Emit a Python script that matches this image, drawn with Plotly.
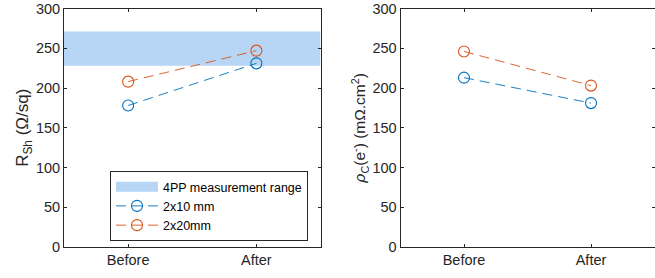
import plotly.graph_objects as go

categories = ["Before", "After"]
x_pos = [1, 2]

rsh_2x10 = [178, 231]
rsh_2x20 = [208, 247]
rhoc_2x10 = [213, 181]
rhoc_2x20 = [246, 203]

band_low = 228
band_high = 271

y_ticks = [0, 50, 100, 150, 200, 250, 300]

BLUE = "#0072BD"
ORANGE = "#D95319"
BAND = "#B7D5F4"
AX = "#262626"
FONT = "Liberation Sans, Arial, sans-serif"

W, H = 655, 278
fig = go.Figure()

xr = [0.5, 2.5]
fig.add_trace(go.Scatter(
    x=[xr[0], xr[1], xr[1], xr[0], xr[0]],
    y=[band_low, band_low, band_high, band_high, band_low],
    fill="toself", fillcolor=BAND, mode="lines", line=dict(width=0, color=BAND),
    name="4PP measurement range", showlegend=False, xaxis="x", yaxis="y", hoverinfo="skip"))
# legend proxy for the band
fig.add_trace(go.Scatter(
    x=[None], y=[None], mode="lines", line=dict(width=10, color=BAND),
    name="4PP measurement range", xaxis="x", yaxis="y"))

for vals, col, name, xa, ya, sl in [
    (rsh_2x10, BLUE, "2x10 mm", "x", "y", True),
    (rsh_2x20, ORANGE, "2x20mm", "x", "y", True),
    (rhoc_2x10, BLUE, "2x10 mm", "x2", "y2", False),
    (rhoc_2x20, ORANGE, "2x20mm", "x2", "y2", False),
]:
    fig.add_trace(go.Scatter(
        x=x_pos, y=vals, mode="lines+markers", name=name, showlegend=sl,
        line=dict(color=col, width=0.9, dash="10px,6px"),
        marker=dict(symbol="circle-open", size=11, color=col, line=dict(width=1.1, color=col)),
        xaxis=xa, yaxis=ya))

ybot = 1 - 247 / H
ytop = 1 - 8.5 / H

common_x = dict(range=xr, tickvals=x_pos, ticktext=categories, ticks="inside", ticklen=3,
                tickcolor=AX, showline=True, linecolor=AX, linewidth=1, mirror="ticks",
                showgrid=False, zeroline=False, automargin=False,
                tickfont=dict(family=FONT, size=14.5, color=AX))
common_y = dict(range=[0, 300], tickvals=y_ticks, ticks="inside", ticklen=3,
                tickcolor=AX, showline=True, linecolor=AX, linewidth=1, mirror="ticks",
                showgrid=False, zeroline=False, automargin=False,
                tickfont=dict(family=FONT, size=14.5, color=AX))

fig.update_layout(
    width=W, height=H, margin=dict(l=0, r=0, t=0, b=0, autoexpand=False),
    paper_bgcolor="white", plot_bgcolor="white",
    font=dict(family=FONT, color=AX),
    xaxis=dict(domain=[64 / W, 320.5 / W], anchor="y", **common_x),
    yaxis=dict(domain=[ybot, ytop], anchor="x",
               title=dict(text="R<sub>Sh</sub> (Ω/sq)", font=dict(family=FONT, size=17, color=AX),
                          standoff=2),
               **common_y),
    xaxis2=dict(domain=[400.5 / W, 654.5 / W], anchor="y2", **common_x),
    yaxis2=dict(domain=[ybot, ytop], anchor="x2",
                title=dict(text="<i>ρ</i><sub>C</sub>(e<sup>-</sup>) (mΩ.cm<sup>2</sup>)",
                           font=dict(family=FONT, size=15.5, color=AX), standoff=2),
                **common_y),
    legend=dict(x=110 / W, y=1 - 171 / H, xanchor="left", yanchor="top",
                bgcolor="white", bordercolor=AX, borderwidth=1,
                font=dict(family=FONT, size=12.5, color="black"),
                tracegroupgap=0, itemwidth=42),
    showlegend=True,
)

fig.write_html("out.html", config={"displayModeBar": False},
               post_script="document.body.style.margin='0';document.body.style.overflow='hidden';")
